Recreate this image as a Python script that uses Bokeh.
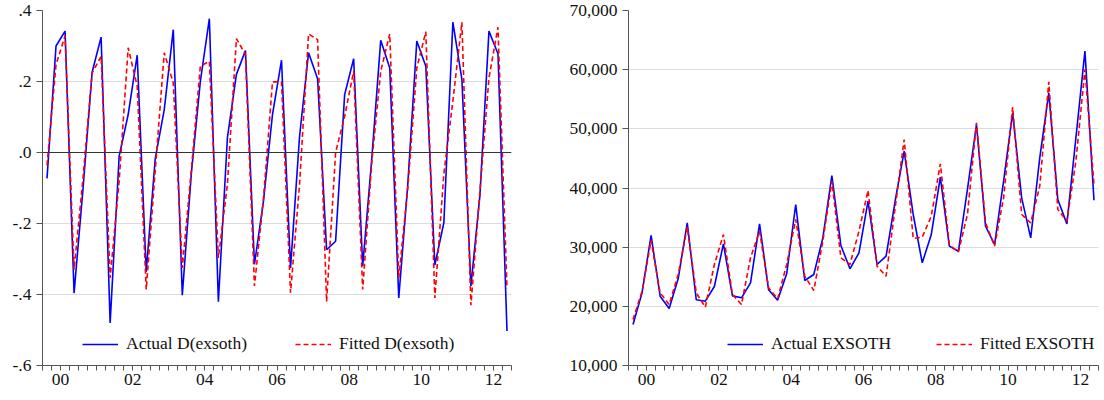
from bokeh.plotting import figure
from bokeh.models import (Range1d, FixedTicker, Legend, LegendItem, Span,
                          NumeralTickFormatter, CustomJSTickFormatter)
from bokeh.layouts import row
from bokeh.embed import file_html
from bokeh.resources import INLINE

# ---------------- data (quarterly, 2000Q1 .. 2012Q4) ----------------
start_year = 2000
year_labels = [2000, 2002, 2004, 2006, 2008, 2010, 2012]

actual_d = [-0.073, 0.300, 0.342, -0.396, -0.100, 0.226, 0.325, -0.480,
            -0.010, 0.107, 0.274, -0.336, -0.017, 0.121, 0.346, -0.402,
            -0.060, 0.200, 0.377, -0.420, 0.041, 0.220, 0.287, -0.315,
            -0.137, 0.107, 0.260, -0.325, 0.045, 0.281, 0.208, -0.274,
            -0.250, 0.163, 0.264, -0.320, -0.020, 0.316, 0.238, -0.410,
            -0.090, 0.314, 0.243, -0.317, -0.198, 0.367, 0.206, -0.376,
            -0.120, 0.342, 0.278, -0.503]
fitted_d = [-0.036, 0.248, 0.328, -0.330, -0.070, 0.224, 0.271, -0.353,
            -0.080, 0.295, 0.187, -0.386, -0.050, 0.281, 0.196, -0.325,
            -0.050, 0.243, 0.257, -0.297, -0.090, 0.321, 0.276, -0.376,
            -0.130, 0.199, 0.199, -0.395, -0.090, 0.334, 0.318, -0.420,
            0.000, 0.102, 0.229, -0.386, -0.030, 0.229, 0.334, -0.353,
            -0.100, 0.238, 0.340, -0.410, -0.060, 0.145, 0.367, -0.430,
            -0.110, 0.210, 0.353, -0.383]
actual_lvl = [16930, 22300, 32000, 21720, 19630, 24700, 34110, 21100,
              20870, 23350, 30560, 21770, 21440, 23970, 33940, 22790,
              21040, 25490, 37210, 24370, 25380, 31580, 42110, 30280,
              26340, 29040, 37775, 27070, 28480, 37800, 46230, 35520,
              27350, 32140, 41830, 30170, 29320, 39750, 50730, 33550,
              30450, 41150, 52700, 38340, 31580, 45100, 56080, 38060,
              33940, 48480, 63130, 37940]
fitted_lvl = [17770, 22560, 31130, 22280, 20310, 25380, 33380, 22280,
              19860, 27070, 32140, 22000, 20310, 28200, 32700, 23130,
              21270, 27070, 34680, 25100, 22680, 31010, 41150, 28200,
              27070, 32700, 39580, 26790, 25100, 36650, 48200, 31470,
              31690, 35240, 44080, 30340, 29210, 35520, 51010, 34110,
              30170, 38340, 53660, 35520, 34110, 40310, 57940, 36370,
              34390, 44540, 60030, 40590]

n = len(actual_d)
x = [start_year + (i + 0.5) / 4 for i in range(n)]
end_year = start_year + n // 4

FONT = "Liberation Serif"
FS = "17.5px"
BLUE = "#0000ff"
RED = "#ff0000"
AXIS = "#555555"


def make_fig(width, left, right, y_lo, y_hi, yticks):
    p = figure(width=width, height=400, output_backend="svg", toolbar_location=None,
               x_range=Range1d(start_year, end_year), y_range=Range1d(y_lo, y_hi),
               min_border_left=left, min_border_right=right,
               min_border_top=10, min_border_bottom=35)
    p.outline_line_color = None
    p.background_fill_color = "white"
    p.border_fill_color = "white"
    p.xgrid.visible = False
    p.ygrid.grid_line_color = "#dcdcdc"
    p.ygrid.grid_line_width = 1

    # x axis: labels at mid-year, quarterly minor ticks
    xa = p.xaxis[0]
    xa.ticker = FixedTicker(ticks=[y + 0.5 for y in year_labels],
                            minor_ticks=[start_year + q / 4 for q in range(4 * (end_year - start_year) + 1)])
    xa.formatter = CustomJSTickFormatter(code="var y = Math.floor(tick) % 100; return (y < 10 ? '0' : '') + y;")
    xa.major_tick_out = 0
    xa.major_tick_in = 0
    xa.minor_tick_out = 5
    xa.minor_tick_in = 0
    xa.minor_tick_line_color = AXIS
    xa.axis_line_color = AXIS
    xa.major_label_standoff = 3
    xa.major_label_text_font = FONT
    xa.major_label_text_font_size = FS
    xa.major_label_text_color = "#111111"

    ya = p.yaxis[0]
    ya.ticker = FixedTicker(ticks=yticks)
    ya.major_tick_out = 6
    ya.major_tick_in = 0
    ya.minor_tick_out = 0
    ya.minor_tick_in = 0
    ya.major_tick_line_color = AXIS
    ya.axis_line_color = AXIS
    ya.major_label_standoff = 5
    ya.major_label_text_font = FONT
    ya.major_label_text_font_size = FS
    ya.major_label_text_color = "#111111"
    return p


def add_lines(p, ya, yf, lab_a, lab_f, loc, spacing):
    ra = p.line(x, ya, line_color=BLUE, line_width=1.6)
    rf = p.line(x, yf, line_color=RED, line_width=1.6, line_dash="5 3")
    leg = Legend(items=[LegendItem(label=lab_a, renderers=[ra]),
                        LegendItem(label=lab_f, renderers=[rf])],
                 orientation="horizontal", location=loc)
    leg.border_line_color = None
    leg.background_fill_alpha = 0
    leg.padding = 0
    leg.margin = 0
    leg.spacing = spacing
    leg.glyph_width = 36
    leg.glyph_height = 20
    leg.label_height = 20
    leg.label_standoff = 8
    leg.label_text_font = FONT
    leg.label_text_font_size = FS
    leg.label_text_color = "#111111"
    p.add_layout(leg)


# left panel: D(exsoth)
p1 = make_fig(552, 42, 41, -0.6, 0.4, [-0.6, -0.4, -0.2, 0.0, 0.2, 0.4])
p1.yaxis[0].formatter = CustomJSTickFormatter(
    code="var s = tick.toFixed(1); if (s == '-0.0') s = '0.0'; return s.replace('0.', '.');")
p1.add_layout(Span(location=0, dimension="width", line_color="#333333", line_width=1))
add_lines(p1, actual_d, fitted_d, "Actual D(exsoth)", "Fitted D(exsoth)", (40, 11), 48)

# right panel: EXSOTH
p2 = make_fig(552, 76, 6, 10000, 70000, [10000, 20000, 30000, 40000, 50000, 60000, 70000])
p2.yaxis[0].formatter = NumeralTickFormatter(format="0,0")
add_lines(p2, actual_lvl, fitted_lvl, "Actual EXSOTH", "Fitted EXSOTH", (99, 11), 45)

layout = row(p1, p2)
open("out.html", "w").write(file_html(layout, INLINE))
